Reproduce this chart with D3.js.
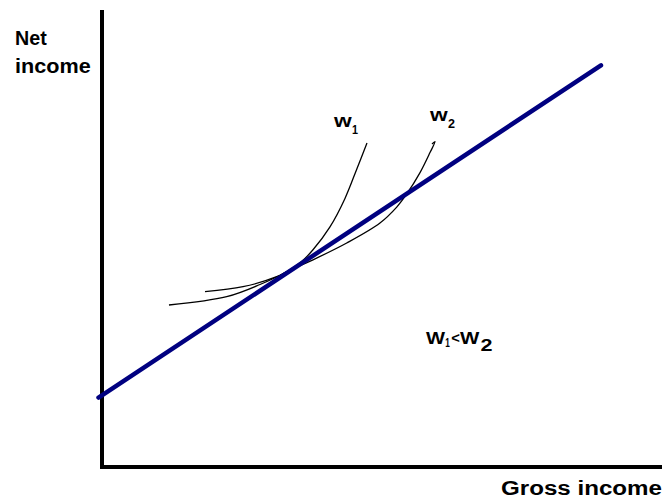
<!DOCTYPE html>
<html>
<head>
<meta charset="utf-8">
<script src="https://cdn.jsdelivr.net/npm/d3@7"></script>
<style>
  html, body { margin: 0; padding: 0; background: #fff; }
  svg { display: block; }
  text { font-family: "Liberation Sans", Arial, sans-serif; font-weight: bold; fill: #000; }
</style>
</head>
<body>
<svg id="chart" width="662" height="504"></svg>
<script>
// Budget line (gross -> net)
const lineGross = [-0.62, 89.1];
const lineNet = [15.2, 87.9];

// Curve w1
const w1Gross = [11.96, 22.27, 28.21, 33.04, 35.54, 37.68, 40.71, 43.39, 45.54, 47.32];
const w1Net = [35.45, 37.27, 39.93, 42.78, 44.84, 47.53, 52.54, 58.77, 65.34, 70.90];

// Curve w2
const w2Gross = [18.39, 25.18, 31.2, 33.04, 37.68, 43.7, 49.64, 52.63, 54.29, 56.79, 58.57, 59.46, 58.93];
const w2Net = [38.36, 39.45, 41.64, 42.78, 45.34, 49.02, 53.39, 56.87, 59.52, 64.42, 68.80, 71.20, 70.68];

const yLabel = ["Net", "income"];
const xLabel = "Gross income";

const svg = d3.select("#chart");
const x = d3.scaleLinear().domain([0, 100]).range([102, 662]);
const y = d3.scaleLinear().domain([0, 100]).range([467, 10]);

// Axes
svg.append("line").attr("x1", x(0)).attr("x2", x(0)).attr("y1", y(100)).attr("y2", y(0) + 2)
  .attr("stroke", "#000").attr("stroke-width", 4);
svg.append("line").attr("x1", x(0) - 2).attr("x2", x(100)).attr("y1", y(0)).attr("y2", y(0))
  .attr("stroke", "#000").attr("stroke-width", 4);

const zip = (a, b) => a.map((v, i) => [v, b[i]]);
const gen = d3.line().x(d => x(d[0])).y(d => y(d[1])).curve(d3.curveCatmullRom.alpha(0.5));

// Curves
[[w1Gross, w1Net], [w2Gross, w2Net]].forEach(([g, n]) => {
  svg.append("path").datum(zip(g, n)).attr("d", gen)
    .attr("fill", "none").attr("stroke", "#000").attr("stroke-width", 1.3);
});

// Budget line
svg.append("path").datum(zip(lineGross, lineNet))
  .attr("d", d3.line().x(d => x(d[0])).y(d => y(d[1])))
  .attr("fill", "none").attr("stroke", "#000080").attr("stroke-width", 4.5)
  .attr("stroke-linecap", "round");

function txt(s, px, py, size, len) {
  const t = svg.append("text").attr("x", px).attr("y", py).attr("font-size", size).text(s);
  if (len) t.attr("textLength", len).attr("lengthAdjust", "spacingAndGlyphs");
  return t;
}

// Axis titles
txt(yLabel[0], 15, 44.5, 19.5, 31.7);
txt(yLabel[1], 15, 72.7, 19.5, 75.7);
txt(xLabel, 501, 495, 20, 161);

// Curve labels
txt("w", 334, 127, 18, 17.7);
txt("1", 352, 133.5, 13, 6);
txt("w", 430, 121, 18, 17.7);
txt("2", 448, 127.5, 13, 7);

// W1<W2
txt("W", 426, 343.5, 17, 19);
txt("1", 445.3, 346.5, 12, 4.6);
txt("<", 451.2, 342.5, 15, 8.6);
txt("W", 460, 343.5, 17, 19.3);
txt("2", 480.5, 350.5, 16, 12);
</script>
</body>
</html>
